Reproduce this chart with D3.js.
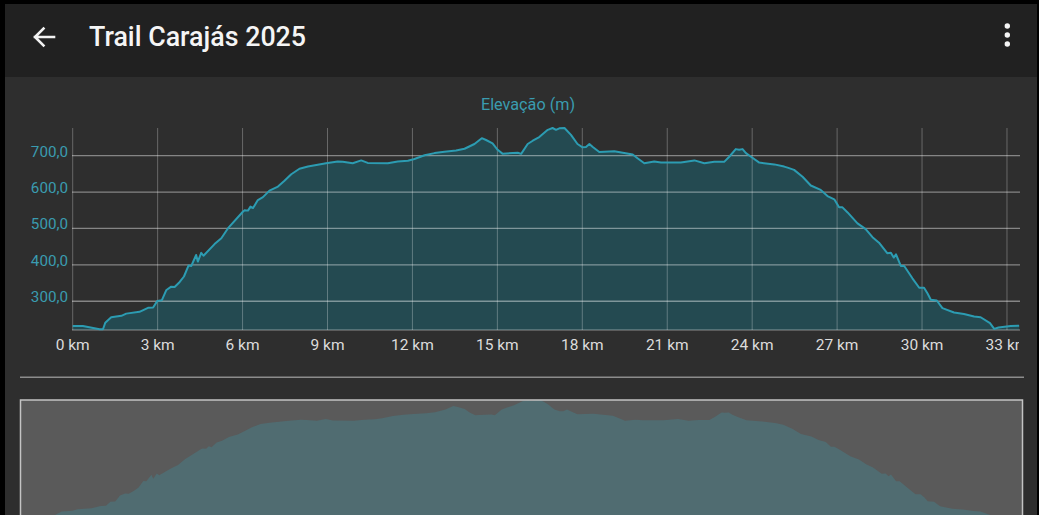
<!DOCTYPE html>
<html>
<head>
<meta charset="utf-8">
<script src="https://cdn.jsdelivr.net/npm/d3@7"></script>
<style>
  body { margin: 0; background: #000; overflow: hidden; }
  svg { display: block; font-family: Roboto, "Noto Sans", sans-serif; }
</style>
</head>
<body>
<div id="chart"></div>
<script>
// elevation profile
var dist_km = [0, 0.36, 0.95, 1.07, 1.15, 1.36, 1.72, 1.89, 2.36, 2.66, 2.84, 2.99, 3.15, 3.31, 3.48, 3.6, 3.78, 3.93,
    4.09, 4.19, 4.36, 4.42, 4.54, 4.62, 5.01, 5.25, 5.48, 6.01, 6.07, 6.19, 6.28, 6.37, 6.54, 6.72, 6.95, 7.25, 7.48,
    7.72, 8.01, 8.31, 8.95, 9.36, 9.54, 9.89, 10.19, 10.42, 11.13, 11.48, 11.84, 12.07, 12.43, 12.78, 13.13, 13.54,
    13.84, 14.19, 14.45, 14.6, 14.83, 15.01, 15.19, 15.31, 15.72, 15.84, 16.07, 16.25, 16.48, 16.78, 16.95, 17.07,
    17.19, 17.37, 17.6, 17.83, 18.01, 18.13, 18.25, 18.37, 18.6, 19.13, 19.78, 19.95, 20.19, 20.54, 20.78, 21.48,
    21.96, 22.31, 22.66, 23.01, 23.19, 23.42, 23.54, 23.66, 23.78, 23.96, 24.25, 24.78, 25.13, 25.25, 25.48, 25.78,
    26.07, 26.42, 26.66, 26.9, 27.07, 27.19, 27.37, 27.72, 28.01, 28.25, 28.48, 28.77, 28.9, 29.0, 29.08, 29.25,
    29.37, 29.66, 29.9, 30.07, 30.19, 30.31, 30.52, 30.72, 31.13, 31.48, 31.84, 32.07, 32.4, 32.55, 32.7, 33.13, 33.43]
var elev_m = [232, 232, 223, 223, 241, 256, 260, 266, 271, 282, 283, 301, 303, 331, 340, 339, 353, 368,
    398, 397, 427, 409, 433, 425, 457, 473, 500, 546, 550, 549, 560, 556, 578, 586, 604, 615, 631,
    649, 664, 670, 679, 684, 683, 679, 687, 680, 679, 684, 686, 691, 701, 707, 711, 714,
    719, 732, 748, 743, 734, 716, 705, 706, 708, 705, 732, 741, 751, 771, 776, 771,
    775, 776, 757, 732, 723, 724, 732, 724, 710, 712, 703, 693, 679, 684, 681, 681,
    687, 679, 683, 683, 697, 718, 716, 718, 707, 697, 681, 676, 670, 667, 661, 642,
    618, 606, 589, 580, 558, 558, 544, 514, 498, 476, 461, 432, 433, 420, 429, 397,
    397, 363, 337, 337, 322, 304, 302, 281, 269, 265, 258, 256, 240, 224, 228, 232, 233]

var x_ticks = [0, 3, 6, 9, 12, 15, 18, 21, 24, 27, 30, 33]
var y_ticks = [300, 400, 500, 600, 700]

var title = "Trail Carajás 2025"
var chart_label = "Elevação (m)"

var data = dist_km.map(function(d, i) { return {km: d, elev: elev_m[i]} })

var width = 1039
var height = 515

var svg = d3.select("#chart")
    .append("svg")
    .attr("width", width)
    .attr("height", height)

// app frame
svg.append("rect").attr("x", 5).attr("y", 4).attr("width", 1032).attr("height", 511).attr("fill", "#2e2e2e")
svg.append("rect").attr("x", 5).attr("y", 4).attr("width", 1032).attr("height", 73).attr("fill", "#212121")

// toolbar
svg.append("path")
    .attr("d", "M54,37 L35,37 M43.5,28.5 L35,37 L43.5,45.5")
    .attr("stroke", "#f2f2f2").attr("stroke-width", 2.6).attr("fill", "none")
    .attr("stroke-linecap", "square")
svg.append("text")
    .attr("x", 89).attr("y", 45.5)
    .attr("fill", "#f5f5f5")
    .attr("font-size", 26.8).attr("font-weight", 500)
    .text(title)
svg.selectAll(".dot").data([26, 35, 44]).enter()
    .append("circle").attr("cx", 1007.3).attr("cy", function(d) { return d }).attr("r", 2.7).attr("fill", "#f5f5f5")

// main chart
var x = d3.scaleLinear().domain([0, 33.46]).range([72.7, 1020])
var y = d3.scaleLinear().domain([221, 776]).range([330, 128])

svg.append("defs").append("clipPath").attr("id", "clip")
    .append("rect").attr("x", 0).attr("y", 0).attr("width", 1019).attr("height", height)

var area = d3.area()
    .x(function(d) { return x(d.km) })
    .y0(330)
    .y1(function(d) { return y(d.elev) })
var line = d3.line()
    .x(function(d) { return x(d.km) })
    .y(function(d) { return y(d.elev) })

svg.append("path").datum(data).attr("d", area).attr("fill", "#244a51")

// grid on top of the fill
var grid = svg.append("g")
grid.selectAll(".vg").data(x_ticks).enter().append("line")
    .attr("x1", function(d) { return x(d) }).attr("x2", function(d) { return x(d) })
    .attr("y1", 128).attr("y2", 330)
    .attr("stroke", "#fff").attr("stroke-opacity", 0.28).attr("stroke-width", 1)
grid.selectAll(".hg").data(y_ticks).enter().append("line")
    .attr("x1", 72).attr("x2", 1020)
    .attr("y1", function(d) { return y(d) }).attr("y2", function(d) { return y(d) })
    .attr("stroke", "#fff").attr("stroke-opacity", 0.42).attr("stroke-width", 1.3)
grid.append("line").attr("x1", 72).attr("x2", 1020).attr("y1", 330).attr("y2", 330)
    .attr("stroke", "#fff").attr("stroke-opacity", 0.3).attr("stroke-width", 1.3)

svg.append("path").datum(data).attr("d", line)
    .attr("fill", "none").attr("stroke", "#2c9cb2").attr("stroke-width", 2)
    .attr("stroke-linejoin", "round")

// y labels
svg.selectAll(".ylab").data(y_ticks).enter().append("text")
    .attr("x", 68).attr("y", function(d) { return y(d) + 1 })
    .attr("text-anchor", "end")
    .attr("fill", "#3a9cb0").attr("font-size", 15.2)
    .text(function(d) { return d3.format(".1f")(d).replace(".", ",") })

// x labels
svg.append("g").attr("clip-path", "url(#clip)")
    .selectAll(".xlab").data(x_ticks).enter().append("text")
    .attr("x", function(d) { return x(d) }).attr("y", 350)
    .attr("text-anchor", "middle")
    .attr("fill", "#dcdcdc").attr("font-size", 15.5)
    .text(function(d) { return d + " km" })

svg.append("text")
    .attr("x", 528).attr("y", 110)
    .attr("text-anchor", "middle")
    .attr("fill", "#3a9cb0").attr("font-size", 16.2)
    .text(chart_label)

// separator
svg.append("line").attr("x1", 20).attr("x2", 1024).attr("y1", 377.3).attr("y2", 377.3)
    .attr("stroke", "#8c8c8c").attr("stroke-width", 1.5)

// overview
var ox = d3.scaleLinear().domain([0, 33.46]).range([21, 1022])
var oy = d3.scaleLinear().domain([221, 776]).range([519, 400])

svg.append("rect").attr("x", 20.5).attr("y", 400).attr("width", 1002).attr("height", 130)
    .attr("fill", "#5a5a5a")
svg.append("path").datum(data)
    .attr("d", d3.area()
        .x(function(d) { return ox(d.km) })
        .y0(530)
        .y1(function(d) { return oy(d.elev) }))
    .attr("fill", "#506c71")
svg.append("rect").attr("x", 20.5).attr("y", 400).attr("width", 1002).attr("height", 130)
    .attr("fill", "none").attr("stroke", "#c4c4c4").attr("stroke-width", 1.5)
</script>
</body>
</html>
